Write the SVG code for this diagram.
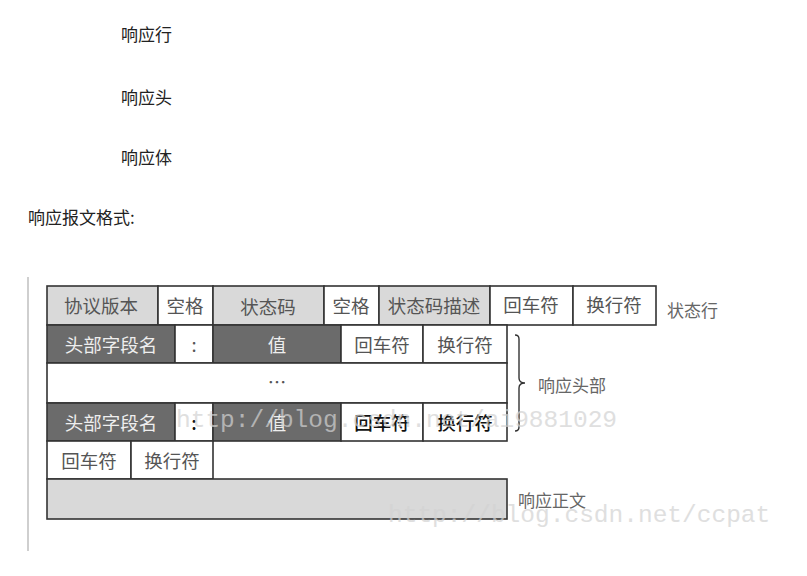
<svg xmlns="http://www.w3.org/2000/svg" width="807" height="576" viewBox="0 0 807 576">
<style>
  .cell { stroke: #333; stroke-width: 1.6; }
  .lt { fill: #d9d9d9; }
  .wh { fill: #ffffff; }
  .dk { fill: #6b6b6b; }
  text { font-family: "Noto Sans CJK SC", "Noto Sans", sans-serif; }
  .top { font-size: 17px; fill: #222; }
  .t { font-size: 18.5px; text-anchor: middle; dominant-baseline: central; fill: #555; }
  .tw { fill: #eeeeee; }
  .tb { fill: #111; font-weight: 500; }
  .lbl { font-size: 17px; fill: #666; dominant-baseline: central; }
  .wm { font-family: "Liberation Mono", "DejaVu Sans Mono", monospace; font-size: 24.5px; fill: #d2d2d2; opacity: 0.7; }
</style>
<rect width="807" height="576" fill="#ffffff"/>

<g id="intro">
  <text class="top" x="121" y="41">响应行</text>
  <text class="top" x="121" y="104">响应头</text>
  <text class="top" x="121" y="164">响应体</text>
  <text class="top" x="28" y="224">响应报文格式:</text>
</g>

<line x1="28" y1="277" x2="28" y2="551" stroke="#cfcfcf" stroke-width="2"/>

<g id="status-line">
  <rect class="cell lt" x="47" y="286" width="111" height="39"/>
  <rect class="cell wh" x="158" y="286" width="55" height="39"/>
  <rect class="cell lt" x="213" y="286" width="111" height="39"/>
  <rect class="cell wh" x="324" y="286" width="55" height="39"/>
  <rect class="cell lt" x="379" y="286" width="111" height="39"/>
  <rect class="cell wh" x="490" y="286" width="83" height="39"/>
  <rect class="cell wh" x="573" y="286" width="83" height="39"/>
  <text class="t" x="101" y="305">协议版本</text>
  <text class="t" x="185" y="305">空格</text>
  <text class="t" x="268" y="306">状态码</text>
  <text class="t" x="351" y="305">空格</text>
  <text class="t" x="434" y="305" fill="#444">状态码描述</text>
  <text class="t" x="531" y="304">回车符</text>
  <text class="t" x="614" y="304">换行符</text>
  <text class="lbl" x="667" y="309">状态行</text>
</g>

<g id="header-row-1">
  <rect class="cell dk" x="47" y="325" width="128" height="38"/>
  <rect class="cell wh" x="175" y="325" width="38" height="38"/>
  <rect class="cell dk" x="213" y="325" width="128" height="38"/>
  <rect class="cell wh" x="341" y="325" width="82" height="38"/>
  <rect class="cell wh" x="423" y="325" width="84" height="38"/>
  <text class="t tw" x="111" y="344">头部字段名</text>
  <text class="t" x="194" y="344">:</text>
  <text class="t tw" x="277" y="344">值</text>
  <text class="t" x="382" y="344">回车符</text>
  <text class="t" x="465" y="344">换行符</text>
</g>

<g id="header-ellipsis">
  <rect class="cell wh" x="47" y="363" width="460" height="40"/>
  <text class="t" x="277" y="381" fill="#444">…</text>
</g>

<g id="header-row-n">
  <rect class="cell dk" x="47" y="403" width="128" height="38"/>
  <rect class="cell wh" x="175" y="403" width="38" height="38"/>
  <rect class="cell dk" x="213" y="403" width="128" height="38"/>
  <rect class="cell wh" x="341" y="403" width="82" height="38"/>
  <rect class="cell wh" x="423" y="403" width="84" height="38"/>
  <text class="t tw" x="111" y="422">头部字段名</text>
  <text class="t tb" x="194" y="422">:</text>
  <text class="t tw" x="277" y="422">值</text>
  <text class="t tb" x="382" y="422">回车符</text>
  <text class="t tb" x="465" y="422">换行符</text>
</g>

<g id="blank-line">
  <rect class="cell wh" x="47" y="441" width="84" height="38"/>
  <rect class="cell wh" x="131" y="441" width="82" height="38"/>
  <text class="t" x="89" y="460">回车符</text>
  <text class="t" x="172" y="460">换行符</text>
</g>

<g id="body">
  <rect class="cell lt" x="47" y="479" width="460" height="40"/>
  <text class="lbl" x="518" y="499" fill="#444">响应正文</text>
</g>

<g id="connectors">
  <path d="M515,335 Q519,335 519,339 L519,378 Q519,383 525,383 Q519,383 519,388 L519,427 Q519,431 515,431" fill="none" stroke="#333" stroke-width="1.4"/>
  <text class="lbl" x="538" y="384">响应头部</text>
</g>

<g id="watermarks">
  <text class="wm" x="176" y="427">http://blog.csdn.net/ai9881029</text>
  <text class="wm" x="388" y="522">http://blog.csdn.net/ccpat</text>
</g>
</svg>
